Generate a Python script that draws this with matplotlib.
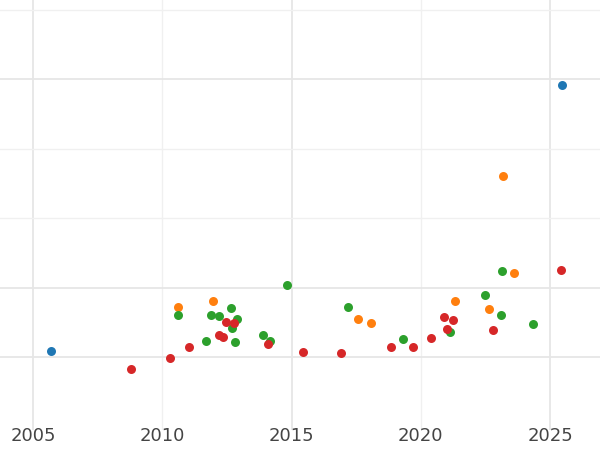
import matplotlib
matplotlib.use("Agg")
import matplotlib.pyplot as plt

blue_x = [2005.7, 2025.46]
blue_y = [0.09, 3.91]
orange_x = [2010.6, 2011.96, 2017.57, 2018.08, 2021.33, 2022.64, 2023.18, 2023.6]
orange_y = [0.72, 0.81, 0.55, 0.49, 0.81, 0.69, 2.6, 1.21]
green_x = [2010.6, 2011.7, 2011.9, 2012.2, 2012.66, 2012.7, 2012.9, 2012.8, 2013.9, 2014.17,
           2014.83, 2017.19, 2019.3, 2021.13, 2022.48, 2023.14, 2023.1, 2024.34]
green_y = [0.6, 0.23, 0.6, 0.59, 0.7, 0.42, 0.55, 0.22, 0.32, 0.23,
           1.04, 0.72, 0.26, 0.36, 0.89, 1.24, 0.6, 0.47]
red_x = [2008.8, 2010.3, 2011.03, 2012.2, 2012.35, 2012.47, 2012.78, 2014.09, 2015.44, 2016.9,
         2018.85, 2019.7, 2020.4, 2020.9, 2021.0, 2021.25, 2022.8, 2025.43]
red_y = [-0.17, -0.01, 0.14, 0.32, 0.29, 0.5, 0.49, 0.19, 0.07, 0.06,
         0.14, 0.14, 0.27, 0.58, 0.4, 0.53, 0.39, 1.25]
x_major = [2005, 2015, 2025]
x_minor = [2010, 2020]
y_major = [0, 1, 4]
y_minor = [2, 3, 5]

fig = plt.figure(figsize=(6, 4.5), dpi=100)
ax = fig.add_axes([0, 20/450, 1, 430/450])
for xs, ys, c in [(blue_x, blue_y, '#1f77b4'), (orange_x, orange_y, '#ff7f0e'),
                  (green_x, green_y, '#2ca02c'), (red_x, red_y, '#d62728')]:
    ax.scatter(xs, ys, s=42, color=c, zorder=3, linewidths=0)
ax.set_xlim(2003.72, 2026.93)
ax.set_ylim(-1.05, 5.14)
ax.set_xticks(x_major)
ax.set_xticks(x_minor, minor=True)
ax.set_xticklabels([str(v) for v in x_minor], minor=True)
ax.set_yticks(y_major)
ax.set_yticks(y_minor, minor=True)
ax.set_yticklabels([])
ax.set_yticklabels([], minor=True)
ax.tick_params(axis='both', which='both', length=0, labelsize=13, labelcolor='#444444')
ax.tick_params(axis='x', which='both', pad=-2)
ax.grid(True, which='major', color='#e6e6e6', linewidth=1.3)
ax.grid(True, which='minor', color='#f0f0f0', linewidth=1.0)
for s in ax.spines.values():
    s.set_visible(False)
fig.savefig("out.png")
